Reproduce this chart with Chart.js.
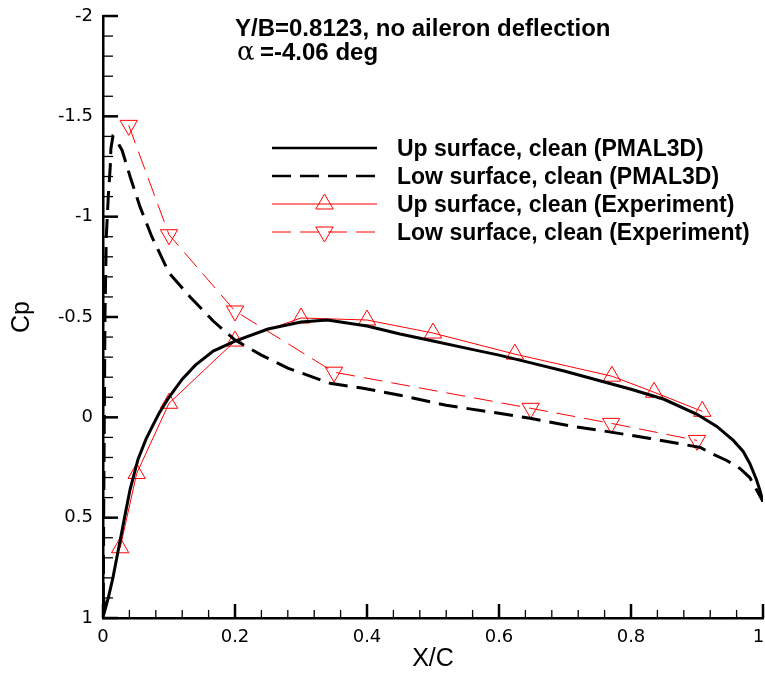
<!DOCTYPE html>
<html><head><meta charset="utf-8">
<script src="https://cdn.jsdelivr.net/npm/chart.js@4/dist/chart.umd.min.js"></script>
<style>html,body{margin:0;padding:0;background:#fff}canvas{display:block}</style>
</head><body>
<canvas id="c" width="765" height="677"></canvas>
<script>
// ---- data ----
const upCfdX  = [0.0008,0.003,0.008,0.015,0.025,0.035,0.041,0.053,0.065,0.074,0.085,0.1,0.12,0.14,0.167,0.2,0.25,0.3,0.34,0.4,0.45,0.5,0.55,0.6,0.65,0.7,0.75,0.8,0.85,0.9,0.93,0.955,0.97,0.98,0.99,0.995,1.0];
const upCfdCp = [0.90,0.96,0.90,0.80,0.63,0.46,0.36,0.21,0.11,0.05,-0.02,-0.10,-0.19,-0.26,-0.33,-0.38,-0.44,-0.475,-0.485,-0.455,-0.415,-0.38,-0.345,-0.31,-0.27,-0.23,-0.185,-0.14,-0.09,-0.015,0.045,0.115,0.17,0.23,0.31,0.36,0.42];

const lowCfdX  = [0.0005,0.001,0.002,0.003,0.005,0.008,0.011,0.012,0.015,0.019,0.024,0.029,0.041,0.056,0.074,0.1,0.132,0.167,0.2,0.24,0.28,0.344,0.394,0.45,0.52,0.6,0.647,0.712,0.753,0.829,0.905,0.925,0.945,0.965,0.98,0.99,1.0];
const lowCfdCp = [0.92,0.5,0.0,-0.5,-0.9,-1.1,-1.25,-1.34,-1.40,-1.39,-1.36,-1.33,-1.20,-1.05,-0.90,-0.72,-0.60,-0.48,-0.385,-0.31,-0.245,-0.17,-0.145,-0.11,-0.06,-0.02,0.005,0.045,0.065,0.105,0.15,0.185,0.215,0.255,0.30,0.36,0.42];

const upExpX  = [0.026,0.051,0.1,0.2,0.3,0.4,0.5,0.624,0.771,0.835,0.908];
const upExpCp = [0.65,0.28,-0.07,-0.38,-0.495,-0.485,-0.42,-0.315,-0.205,-0.125,-0.03];

const lowExpX  = [0.039,0.1,0.2,0.35,0.648,0.77,0.9];
const lowExpCp = [-1.455,-0.91,-0.53,-0.225,-0.045,0.03,0.115];

const xTickValues = [0,0.2,0.4,0.6,0.8,1];
const yTickValues = [-2,-1.5,-1,-0.5,0,0.5,1];
const seriesNames = [
  'Up surface, clean (PMAL3D)',
  'Low surface, clean (PMAL3D)',
  'Up surface, clean (Experiment)',
  'Low surface, clean (Experiment)'
];
const titleLine1 = 'Y/B=0.8123, no aileron deflection';
const titleAlpha = '\u03B1';
const titleLine2 = '=-4.06 deg';
const xTitle = 'X/C';
const yTitle = 'Cp';

function pts(xs, ys){ return xs.map((x,i)=>({x:x, y:ys[i]})); }

// inward major/minor ticks drawn from the scales
const inTicks = {
  id:'inTicks',
  afterDatasetsDraw(chart){
    const ctx = chart.ctx, a = chart.chartArea, xs = chart.scales.x, ys = chart.scales.y;
    ctx.save(); ctx.strokeStyle = '#000'; ctx.lineCap='butt';
    const tick = (p, len, w, vert) => {
      ctx.lineWidth = w; ctx.beginPath();
      if (vert) { ctx.moveTo(a.left, p); ctx.lineTo(a.left + len, p); }
      else { ctx.moveTo(p, a.bottom); ctx.lineTo(p, a.bottom - len); }
      ctx.stroke();
    };
    for (let k=0;k<yTickValues.length;k++){
      tick(ys.getPixelForValue(yTickValues[k]), 15, 2.5, true);
      if (k < yTickValues.length-1){
        const d = (yTickValues[k+1]-yTickValues[k])/5;
        for (let m=1;m<5;m++) tick(ys.getPixelForValue(yTickValues[k]+d*m), 10, 1.3, true);
      }
    }
    for (let k=0;k<xTickValues.length;k++){
      tick(xs.getPixelForValue(xTickValues[k]), 14, 2.5, false);
      if (k < xTickValues.length-1){
        const d = (xTickValues[k+1]-xTickValues[k])/5;
        for (let m=1;m<5;m++) tick(xs.getPixelForValue(xTickValues[k]+d*m), 8, 1.3, false);
      }
    }
    ctx.restore();
  }
};

// text block + legend
const annot = {
  id:'annot',
  afterDraw(chart){
    const ctx = chart.ctx;
    ctx.save();
    ctx.fillStyle = '#000'; ctx.textBaseline = 'alphabetic'; ctx.textAlign = 'left';
    ctx.font = 'bold 24px "Liberation Sans"';
    ctx.fillText(titleLine1, 235, 36);
    ctx.font = '26px "DejaVu Serif"';
    ctx.fillText(titleAlpha, 237, 60);
    ctx.font = 'bold 24px "Liberation Sans"';
    ctx.fillText(titleLine2, 260, 60);

    const rows = [148,176,204,232];
    const x0 = 272, x1 = 377, xm = (x0+x1)/2;
    chart.data.datasets.forEach((ds, i) => {
      const cy = rows[i];
      ctx.save();
      ctx.strokeStyle = ds.borderColor; ctx.lineWidth = Math.min(ds.borderWidth, 2.6);
      ctx.setLineDash(ds.borderDash || []);
      ctx.beginPath(); ctx.moveTo(x0, cy); ctx.lineTo(x1, cy); ctx.stroke();
      ctx.setLineDash([]);
      if (ds.pointRadius > 0) {
        ctx.strokeStyle = ds.pointBorderColor; ctx.lineWidth = ds.pointBorderWidth;
        ctx.fillStyle = 'rgba(0,0,0,0)';
        Chart.helpers.drawPoint(ctx, {pointStyle: ds.pointStyle, rotation: ds.pointRotation || 0, radius: ds.pointRadius, borderWidth: ds.pointBorderWidth}, xm, cy);
      }
      ctx.restore();
      ctx.fillStyle = '#000';
      ctx.font = 'bold 23px "Liberation Sans"';
      ctx.fillText(ds.label, 397, cy + 8);
    });
    ctx.restore();
  }
};

new Chart(document.getElementById('c').getContext('2d'), {
  type: 'scatter',
  data: { datasets: [
    { label: seriesNames[0], data: pts(upCfdX, upCfdCp), showLine: true, borderColor: '#000', borderWidth: 3, pointRadius: 0, tension: 0 },
    { label: seriesNames[1], data: pts(lowCfdX, lowCfdCp), showLine: true, borderColor: '#000', borderWidth: 3, borderDash: [19,9], pointRadius: 0, tension: 0 },
    { label: seriesNames[2], data: pts(upExpX, upExpCp), showLine: true, borderColor: '#ff0000', borderWidth: 1,
      pointStyle: 'triangle', pointRadius: 10, pointHoverRadius: 10, pointBorderColor: '#ff0000', pointBackgroundColor: 'rgba(0,0,0,0)', pointBorderWidth: 1, tension: 0 },
    { label: seriesNames[3], data: pts(lowExpX, lowExpCp), showLine: true, borderColor: '#ff0000', borderWidth: 1, borderDash: [19,9],
      pointStyle: 'triangle', pointRotation: 180, pointRadius: 10, pointHoverRadius: 10, pointBorderColor: '#ff0000', pointBackgroundColor: 'rgba(0,0,0,0)', pointBorderWidth: 1, tension: 0 }
  ]},
  options: {
    responsive: false, animation: false, devicePixelRatio: 1,
    layout: { autoPadding: false, padding: { top: 16, right: 2, left: 0, bottom: 0 } },
    plugins: { legend: { display: false }, tooltip: { enabled: false }, title: { display: false } },
    scales: {
      x: {
        type: 'linear', position: 'bottom', min: 0, max: 1,
        afterBuildTicks: s => { s.ticks = xTickValues.map(v => ({ value: v })); },
        ticks: { font: { family: 'DejaVu Sans', size: 18 }, color: '#000', padding: 9, maxRotation: 0, autoSkip: false,
                 callback: (v, i, arr) => (i === arr.length - 1 ? String(v) + '\u2002' : String(v)) },
        grid: { display: false, drawTicks: false },
        border: { display: true, color: '#000', width: 2.5 },
        title: { display: true, text: xTitle, color: '#000', font: { family: 'Liberation Sans', size: 25 }, padding: { top: 0, bottom: 3 } },
        afterFit: s => { s.height = 59; s.paddingLeft = 0; s.paddingRight = 0; }
      },
      y: {
        type: 'linear', position: 'left', min: -2, max: 1, reverse: true,
        afterBuildTicks: s => { s.ticks = yTickValues.map(v => ({ value: v })); },
        ticks: { font: { family: 'DejaVu Sans', size: 18 }, color: '#000', padding: 10, autoSkip: false, callback: v => String(v) },
        grid: { display: false, drawTicks: false },
        border: { display: true, color: '#000', width: 2.5 },
        title: { display: true, text: yTitle, color: '#000', font: { family: 'Liberation Sans', size: 25 }, padding: { top: 7, bottom: 0 } },
        afterFit: s => { s.width = 103; s.paddingTop = 0; s.paddingBottom = 0; }
      }
    }
  },
  plugins: [inTicks, annot]
});
</script>
</body></html>
